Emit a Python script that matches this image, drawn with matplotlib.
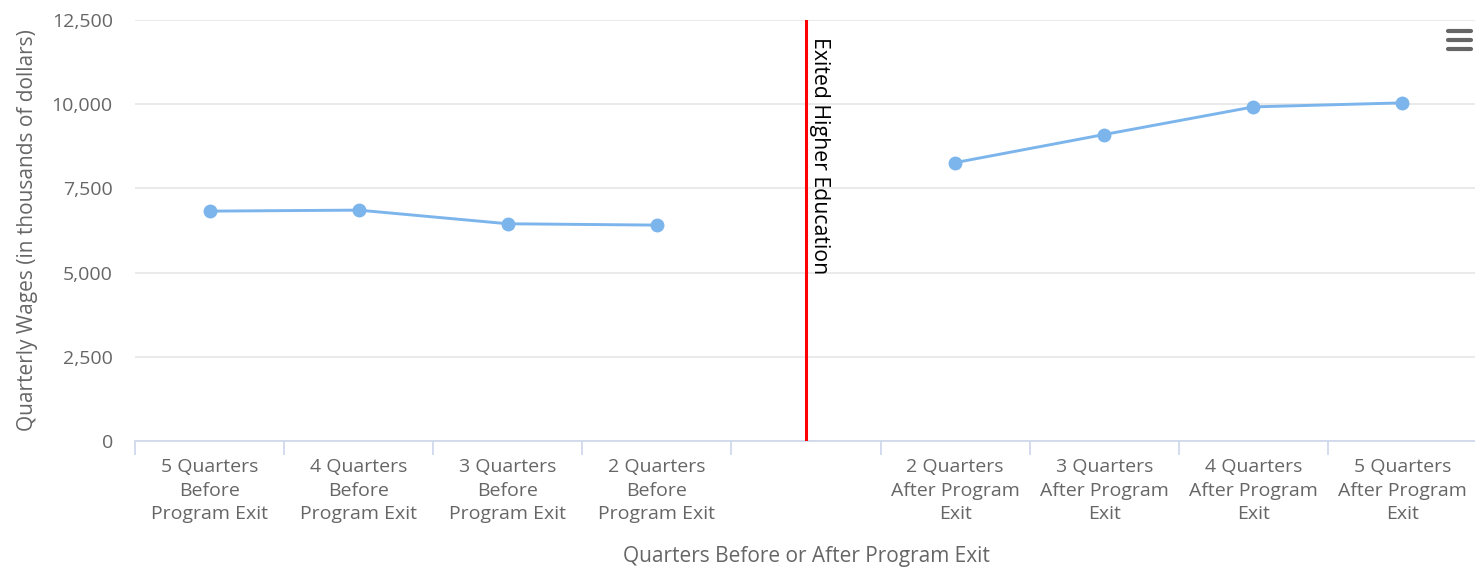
import numpy as np
import matplotlib.pyplot as plt
from matplotlib.lines import Line2D

# categories (index 4 is the empty slot where the exit marker sits)
categories = ["5 Quarters\nBefore\nProgram Exit", "4 Quarters\nBefore\nProgram Exit",
              "3 Quarters\nBefore\nProgram Exit", "2 Quarters\nBefore\nProgram Exit",
              "",
              "2 Quarters\nAfter Program\nExit", "3 Quarters\nAfter Program\nExit",
              "4 Quarters\nAfter Program\nExit", "5 Quarters\nAfter Program\nExit"]
wages = [6825, 6855, 6450, 6410, np.nan, 8265, 9100, 9920, 10040]
y_ticks = [0, 2500, 5000, 7500, 10000, 12500]
exit_pos = 4
exit_label = "Exited Higher Education"

plt.rcParams['font.family'] = ['Open Sans', 'DejaVu Sans']

W, H = 1475, 567
fig = plt.figure(figsize=(W / 100, H / 100), dpi=100)
ax = fig.add_axes([135 / W, 1 - 441 / H, (1477 - 135) / W, (441 - 20) / H])

x = np.arange(len(categories))
ax.plot(x, wages, color="#7cb5ec", lw=2.1, marker="o", ms=9, zorder=3)

ax.axvline(exit_pos, color="#ff0000", lw=2.2, zorder=4)
ax.text(exit_pos + 0.02, 12500 - 500, exit_label, rotation=270, ha="left", va="top",
        fontsize=15.3, color="#000000", zorder=5)

ax.set_xlim(-0.5, len(categories) - 0.5)
ax.set_ylim(0, 12500)
ax.set_yticks(y_ticks)
ax.set_yticklabels([f"{v:,}" for v in y_ticks])
ax.yaxis.grid(True, color="#e6e6e6", lw=1.2)
ax.set_axisbelow(True)

ax.set_xticks(x)
ax.set_xticklabels(categories, fontsize=14, color="#666666", linespacing=1.42)
ax.set_xticks(np.arange(len(categories) + 1) - 0.5, minor=True)
ax.tick_params(axis="x", which="major", length=0, pad=12)
ax.tick_params(axis="x", which="minor", length=10, color="#ccd6eb", width=1.2)
ax.tick_params(axis="y", length=0, pad=16, labelsize=14, labelcolor="#666666")

for s in ["top", "right", "left"]:
    ax.spines[s].set_visible(False)
ax.spines["bottom"].set_color("#ccd6eb")
ax.spines["bottom"].set_linewidth(1.2)

ax.set_xlabel("Quarters Before or After Program Exit", fontsize=15, color="#666666", labelpad=16)
ax.set_ylabel("Quarterly Wages (in thousands of dollars)", fontsize=15, color="#666666", labelpad=10)

# menu icon
for yy in [31, 40, 49]:
    fig.add_artist(Line2D([1448 / W, 1471 / W], [1 - yy / H, 1 - yy / H], color="#666666",
                          lw=3, solid_capstyle="round"))

fig.savefig("out.png", dpi=100)
